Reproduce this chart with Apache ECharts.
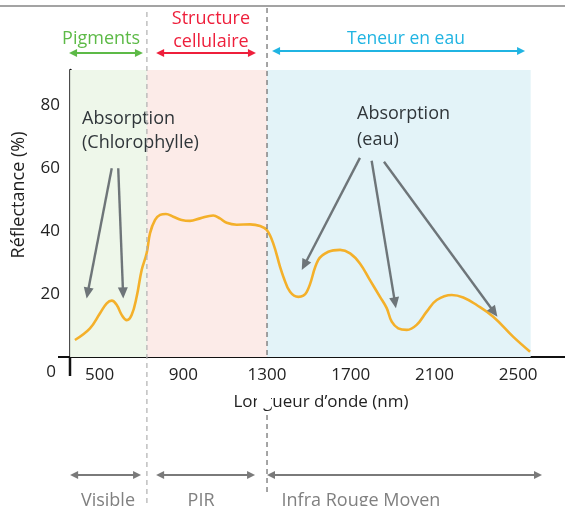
<!DOCTYPE html>
<html>
<head>
<meta charset="utf-8">
<script src="https://cdn.jsdelivr.net/npm/echarts@6/dist/echarts.min.js"></script>
<style>
  html, body { margin: 0; padding: 0; background: #fff; }
  #chart { width: 565px; height: 506px; }
</style>
</head>
<body>
<div id="chart"></div>
<script>
// Spectral reflectance of green vegetation (nm, %)
const wavelength = [382, 454, 502, 534, 558, 582, 606, 630, 653, 677, 701, 725, 741, 765, 789, 817,
  852, 892, 932, 980, 1043, 1075, 1107, 1155, 1219, 1267, 1299, 1330, 1362, 1378, 1410, 1450, 1490,
  1545, 1593, 1649, 1697, 1744, 1792, 1840, 1872, 1896, 1927, 1968, 2015, 2063, 2111, 2183, 2238,
  2302, 2381, 2477, 2557];
const reflectance = [5.4, 9.1, 13.9, 17, 17.9, 16.5, 13.3, 11.7, 13.3, 19.1, 27.6, 33, 39.3, 43.5,
  45.1, 45.4, 44.5, 43.5, 43.2, 44, 44.9, 44, 42.6, 42, 42.1, 41.6, 40.3, 36, 28.7, 25.5, 20.7, 19.1,
  20.7, 30.8, 33.4, 34, 32.9, 29.7, 24.4, 19.1, 15.5, 11.2, 9.1, 8.6, 10.2, 14.4, 18.1, 19.7, 18.9,
  16.5, 12.8, 6.4, 1.7];

const xTickValues = [500, 900, 1300, 1700, 2100, 2500];
const yTickValues = [20, 40, 60, 80];

// Spectral domains
const bandEdges = [359, 726, 1300, 2560];
const bandColors = ['#eef7ea', '#fcebe8', '#e3f3f8'];

// Upper labels: factor that drives reflectance in each domain
const factorLabels = ['Pigments', 'Structure\ncellulaire', 'Teneur en eau'];
const factorLabelX = [507, 1032, 1964];
const factorArrowSpans = [[354, 707], [770, 1247], [1324, 2533]];
const factorColors = ['#5dba47', '#ee1f3b', '#20b4e2'];

// Lower labels: name of each domain
const domainLabels = ['Visible', 'PIR', 'Infra Rouge Moyen'];
const domainLabelX = [540, 985, 1749];
const domainArrowSpans = [[359, 698], [770, 1243], [1300, 2614]];

// Absorption callouts: [from (nm, %), to (nm, %)]
const chloroArrows = [[[558, 59.9], [438, 18.6]], [[589, 59.9], [613, 18.6]]];
const waterArrows = [[[1744, 63.2], [1466, 27.6]], [[1800, 62.3], [1916, 15.5]], [[1859, 62], [2401, 12.8]]];
const chloroText = { x: 416, lines: [['Absorption', 75.6], ['(Chlorophylle)', 68]] };
const waterText = { x: 1730, lines: [['Absorption', 77.1], ['(eau)', 68.9]] };

const FONT = '"Open Sans", "Noto Sans", sans-serif';

const chart = echarts.init(document.getElementById('chart'), null, { renderer: 'canvas' });

const points = wavelength.map((w, i) => [w, reflectance[i]]);
const bandAreas = bandColors.map((c, i) => [
  { xAxis: bandEdges[i], itemStyle: { color: c } },
  { xAxis: bandEdges[i + 1] }
]);

chart.setOption({
  animation: false,
  backgroundColor: '#fff',
  grid: { left: 70, right: 0, top: 70, bottom: 149 },
  xAxis: {
    type: 'value', min: 358.5, max: 2724,
    axisLine: { show: true, onZero: false, lineStyle: { color: '#111', width: 2 } },
    axisTick: { show: false },
    splitLine: { show: false },
    axisLabel: {
      customValues: xTickValues, margin: 10, fontSize: 17, color: '#222', fontFamily: FONT,
      formatter: v => String(v)
    }
  },
  yAxis: {
    type: 'value', min: 0, max: 91.1,
    axisLine: { show: true, onZero: false, lineStyle: { color: '#111', width: 2.5 } },
    axisTick: { show: false },
    splitLine: { show: false },
    axisLabel: {
      customValues: yTickValues, margin: 10, fontSize: 17, color: '#222', fontFamily: FONT,
      formatter: v => String(v)
    }
  },
  series: [{
    type: 'line',
    data: points,
    smooth: 0.4,
    symbol: 'none',
    lineStyle: { color: '#f4b02a', width: 2.6 },
    z: 3,
    markArea: { silent: true, data: bandAreas }
  }]
});

function px(x, y) { return chart.convertToPixel({ gridIndex: 0 }, [x, y]); }

function arrow(p1, p2, color, width, hl, hw, both) {
  const dx = p2[0] - p1[0], dy = p2[1] - p1[1];
  const len = Math.hypot(dx, dy), ux = dx / len, uy = dy / len;
  const els = [];
  let a = p1.slice(), b = p2.slice();
  function head(tip, ddx, ddy) {
    const bx = tip[0] - ddx * hl, by = tip[1] - ddy * hl;
    const nx = -ddy, ny = ddx;
    els.push({ type: 'polygon', z: 100, silent: true,
      shape: { points: [tip, [bx + nx * hw, by + ny * hw], [bx - nx * hw, by - ny * hw]] },
      style: { fill: color } });
  }
  head(p2, ux, uy);
  b = [p2[0] - ux * hl * 0.7, p2[1] - uy * hl * 0.7];
  if (both) {
    head(p1, -ux, -uy);
    a = [p1[0] + ux * hl * 0.7, p1[1] + uy * hl * 0.7];
  }
  els.push({ type: 'line', z: 100, silent: true,
    shape: { x1: a[0], y1: a[1], x2: b[0], y2: b[1] },
    style: { stroke: color, lineWidth: width } });
  return els;
}

function text(x, y, str, size, color, extra) {
  return Object.assign({ type: 'text', x: x, y: y, z: 100, silent: true,
    style: { text: str, fontSize: size, fontFamily: FONT, fill: color,
      align: 'center', verticalAlign: 'middle', lineHeight: 23 } }, extra || {});
}

function drawAnnotations() {
  const g = [];
  const axisY = px(1300, 0)[1];
  const x1 = px(bandEdges[1], 0)[0];
  const x2 = px(bandEdges[2], 0)[0];

  // top rule
  g.push({ type: 'line', z: 100, silent: true, shape: { x1: 0, y1: 6, x2: 565, y2: 6 },
    style: { stroke: '#a3a3a3', lineWidth: 2 } });

  // axis extensions beyond the origin
  const ox = px(358.5, 0)[0];
  g.push({ type: 'line', z: 100, silent: true, shape: { x1: 58, y1: axisY, x2: ox, y2: axisY },
    style: { stroke: '#111', lineWidth: 2 } });
  g.push({ type: 'line', z: 100, silent: true, shape: { x1: ox, y1: axisY, x2: ox, y2: 376 },
    style: { stroke: '#111', lineWidth: 2.5 } });
  g.push(text(51, 372, '0', 17, '#222'));

  // dashed domain separators
  g.push({ type: 'line', z: 101, silent: true, shape: { x1: x1, y1: 12, x2: x1, y2: 506 },
    style: { stroke: '#b0b0b0', lineWidth: 1.2, lineDash: [5, 4] } });
  g.push({ type: 'line', z: 101, silent: true, shape: { x1: x2, y1: 8, x2: x2, y2: axisY },
    style: { stroke: '#6a6a6a', lineWidth: 1.2, lineDash: [5, 4] } });
  g.push({ type: 'line', z: 101, silent: true, shape: { x1: x2, y1: 415, x2: x2, y2: 496 },
    style: { stroke: '#6a6a6a', lineWidth: 1.2, lineDash: [5, 4] } });

  // axis titles; a white patch sits behind the separator where it crosses the title
  g.push(text(321, 402, 'Longueur d\u2019onde (nm)', 17, '#222'));
  g.push({ type: 'rect', z: 102, silent: true, shape: { x: 257, y: 386, width: 14, height: 22.5 },
    style: { fill: '#fff' } });
  g.push(text(19, 195, 'Réflectance (%)', 18, '#222', { rotation: Math.PI / 2 }));

  // factor labels and arrows
  const arrowY = [53, 53, 51];
  factorLabels.forEach((lab, i) => {
    const cx = px(factorLabelX[i], 0)[0];
    g.push(text(cx, i === 1 ? 30 : 39, lab, i === 2 ? 17.5 : 18, factorColors[i]));
    const s = factorArrowSpans[i];
    g.push(...arrow([px(s[0], 0)[0], arrowY[i]], [px(s[1], 0)[0], arrowY[i]], factorColors[i], 2.2, 8, 4, true));
  });

  // domain labels and arrows
  domainLabels.forEach((lab, i) => {
    const cx = px(domainLabelX[i], 0)[0];
    g.push(text(cx, 501, lab, 18, '#808080'));
    const s = domainArrowSpans[i];
    g.push(...arrow([px(s[0], 0)[0], 475], [px(s[1], 0)[0], 475], '#7a7a7a', 2.2, 8, 4, true));
  });

  // absorption callouts
  [chloroArrows, waterArrows].forEach(set => set.forEach(a => {
    g.push(...arrow(px(a[0][0], a[0][1]), px(a[1][0], a[1][1]), '#6e7579', 2.4, 11, 5, false));
  }));
  [chloroText, waterText].forEach(t => t.lines.forEach(l => {
    const p = px(t.x, l[1]);
    g.push(text(p[0], p[1], l[0], 18, '#30363a', { style: { text: l[0], fontSize: 18, fontFamily: FONT,
      fill: '#30363a', align: 'left', verticalAlign: 'middle' } }));
  }));

  chart.setOption({ graphic: { elements: g } });
}

drawAnnotations();
</script>
</body>
</html>
